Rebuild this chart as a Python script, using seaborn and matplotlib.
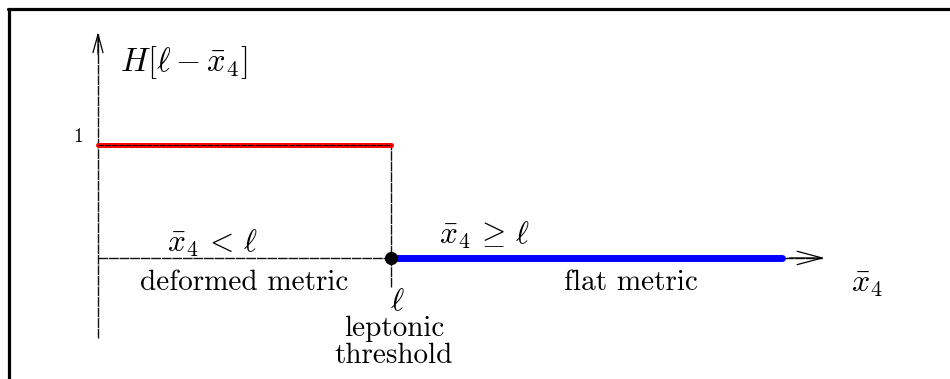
import matplotlib
matplotlib.use("Agg")
import matplotlib.pyplot as plt
import seaborn as sns
import pandas as pd
from matplotlib.lines import Line2D

sns.set_theme(style="white")
plt.rcParams["mathtext.fontset"] = "cm"
plt.rcParams["font.family"] = ["cmr10", "DejaVu Serif"]
plt.rcParams["axes.formatter.use_mathtext"] = True
plt.rcParams["text.color"] = "black"

# Step function H[l - x4]: 1 below the threshold l, 0 above it
ell = 1.0
red_x = [0.0, ell]
red_y = [1.0, 1.0]
blue_x = [ell, 2.334]
blue_y = [0.0, 0.0]
x_axis_end = 2.48
y_axis_top = 2.0
y_axis_bottom = -0.71
drop_bottom = -0.257

fig = plt.figure(figsize=(9.5, 3.79), dpi=100)
ax = fig.add_axes([0, 0, 1, 1])
ax.set_xlim(-0.3345, 2.908)
ax.set_ylim(-1.071, 2.283)
ax.axis("off")

axis_ls = (0, (7, 0.6))
axis_col = "#111111"

# coordinate axes with open arrowheads
ax.plot([0, 0], [y_axis_bottom, y_axis_top - 0.02], color=axis_col, lw=1.0, ls=axis_ls)
ax.plot([0, x_axis_end - 0.01], [0, 0], color=axis_col, lw=1.0, ls=axis_ls)
ax.annotate("", xy=(0, y_axis_top), xytext=(0, y_axis_top - 0.2),
            arrowprops=dict(arrowstyle="->,head_length=1.1,head_width=0.3",
                            color="black", lw=0.9, shrinkA=0, shrinkB=0))
ax.annotate("", xy=(x_axis_end, 0), xytext=(x_axis_end - 0.12, 0),
            arrowprops=dict(arrowstyle="->,head_length=1.5,head_width=0.4",
                            color="black", lw=0.9, shrinkA=0, shrinkB=0))

# drop at the threshold
ax.plot([ell, ell], [drop_bottom, 1.0], color=axis_col, lw=1.0, ls=axis_ls)

# the two branches of the step
red = pd.DataFrame({"x": red_x, "y": red_y})
blue = pd.DataFrame({"x": blue_x, "y": blue_y})
sns.lineplot(data=red, x="x", y="y", ax=ax, color="#ff0000", lw=3.6,
             solid_capstyle="round", zorder=3)
ax.plot(red_x, red_y, color="black", lw=0.7, ls=(0, (6, 1)), zorder=4)
sns.lineplot(data=blue, x="x", y="y", ax=ax, color="#0000ff", lw=5.0,
             solid_capstyle="round", zorder=3)
ax.plot([ell], [0], marker="o", ms=8.5, color="black", zorder=5)

# labels
ax.text(-0.05, 0.99, "1", fontsize=14, ha="right", va="bottom", fontfamily="cmr10")
ax.text(0.075, 1.73, r"$H[\ell-\bar{x}_4]$", fontsize=23.5, ha="left", va="center")
ax.text(0.235, 0.13, r"$\bar{x}_4\,<\,\ell$", fontsize=22.5, ha="left", va="center")
ax.text(1.165, 0.2, r"$\bar{x}_4\,\geq\,\ell$", fontsize=22.5, ha="left", va="center")
ax.text(0.50, -0.22, "deformed metric", fontsize=21, ha="center", va="center")
ax.text(1.82, -0.22, "flat metric", fontsize=21, ha="center", va="center")
ax.text(2.57, -0.24, r"$\bar{x}_4$", fontsize=23, ha="left", va="center")
ax.text(ell + 0.02, -0.39, r"$\ell$", fontsize=23, ha="center", va="center")
ax.text(ell + 0.01, -0.63, "leptonic", fontsize=21, ha="center", va="center")
ax.text(ell + 0.01, -0.87, "threshold", fontsize=21, ha="center", va="center")

# frame
fig.add_artist(Line2D([0.0085, 0.9995], [1 - 8.5 / 379, 1 - 8.5 / 379],
                      transform=fig.transFigure, color="black", lw=2.3))
fig.add_artist(Line2D([8.5 / 950, 8.5 / 950], [0, 1 - 8.5 / 379],
                      transform=fig.transFigure, color="black", lw=2.3))

fig.savefig("out.png", dpi=100)
